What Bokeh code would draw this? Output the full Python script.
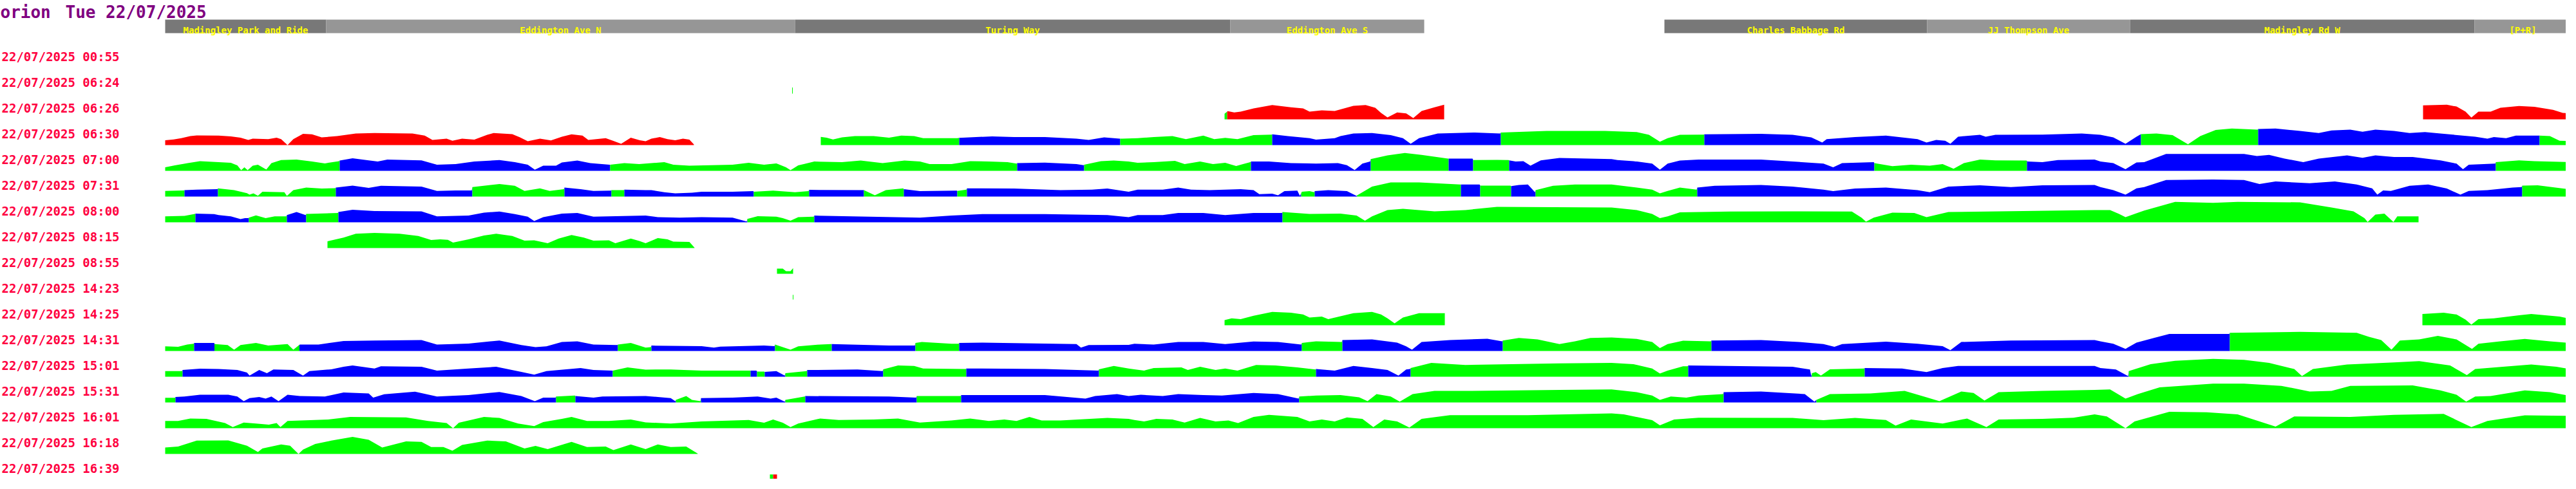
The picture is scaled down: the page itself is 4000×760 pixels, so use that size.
import numpy as np
from bokeh.plotting import figure
from bokeh.models import Range1d
from bokeh.embed import file_html
from bokeh.resources import INLINE
from bokeh.core.properties import value

# ---------------- data ----------------
title_host = "orion"
title_day = "Tue 22/07/2025"
run_date = "22/07/2025"
run_times = ["00:55", "06:24", "06:26", "06:30", "07:00", "07:31", "08:00", "08:15",
             "08:55", "14:23", "14:25", "14:31", "15:01", "15:31", "16:01", "16:18", "16:39"]

stop_names = ["Madingley Park and Ride", "Eddington Ave N", "Turing Way", "Eddington Ave S",
              "Charles Babbage Rd", "JJ Thompson Ave", "Madingley Rd W", "[P+R]"]
stop_from = [0, 250, 978, 1654, 2328, 2736, 3051, 3586]
stop_to = [250, 978, 1654, 1955, 2736, 3051, 3586, 3736]

# profiles: (distance along route, speed height); runs: (colour code, start distance)
r0624 = [(973.5, 9.5), (974.5, 9.5)]
r0624_runs = [("G", 973.5)]

r0626_a = [(1645, 8.7), (1650, 12.7), (1660, 10.7), (1670, 11.9), (1690, 17), (1719, 22.2), (1748, 18.6),
           (1767, 17), (1777, 11.9), (1796, 13.9), (1816, 13), (1845, 21), (1864, 22.2), (1879, 17.8),
           (1888, 9.9), (1898, 2.8), (1913, 10.7), (1927, 9.1), (1938, 1.8), (1951, 13), (1971, 18.6),
           (1986, 22.6)]
r0626_a_runs = [("G", 1645), ("R", 1649)]
r0626_b = [(3506, 21.6), (3543, 22.6), (3558, 19.8), (3572, 11.9), (3581, 2.6), (3592, 11.9), (3611, 11.9),
           (3626, 17.8), (3655, 20.6), (3679, 19.4), (3708, 14.7), (3723, 9.9), (3736, 9.1)]
r0626_b_runs = [("R", 3506)]

r0630_a = [(0, 7.5), (13, 8.7), (25, 10.7), (39, 13.9), (49, 15), (83, 14.7), (102, 13.5), (117, 11.5),
           (129, 7.9), (136, 9.9), (160, 9.1), (173, 11.5), (180, 9.1), (190, 0), (199, 9.1), (214, 17.4),
           (228, 16.6), (243, 11.9), (267, 13.9), (296, 17.8), (325, 18.6), (384, 17.8), (403, 14.7),
           (415, 7.9), (437, 9.9), (446, 6.7), (461, 9.9), (480, 8.3), (500, 15.8), (510, 18.6), (539, 17),
           (551, 11.9), (563, 5.9), (582, 9.9), (599, 7.1), (616, 13), (631, 16.6), (648, 14.7), (657, 7.9),
           (684, 10.7), (696, 6.3), (708, 2), (723, 11.5), (737, 7.5), (746, 5.9), (755, 9.9), (768, 12.3),
           (780, 9.1), (792, 7.5), (804, 9.9), (814, 8.3), (821, 1)]
r0630_a_runs = [("R", 0)]
r0630_b = [(1018, 12.7), (1027, 11.5), (1037, 8.7), (1051, 11.9), (1071, 13.9), (1100, 13.9), (1124, 11.5),
           (1143, 14.7), (1163, 13.9), (1177, 10.7), (1187, 10.7), (1230, 10.7), (1233, 11.1), (1284, 13.5),
           (1318, 12.3), (1366, 12.3), (1415, 9.9), (1434, 7.9), (1458, 11.9), (1482, 9.9), (1486, 9.9),
           (1510, 10.7), (1535, 12.3), (1564, 13.9), (1585, 9.1), (1612, 14.7), (1629, 9.1), (1646, 11.1),
           (1665, 9.1), (1690, 15.4), (1718, 16.2), (1719, 16.6), (1743, 13.9), (1777, 10.7), (1787, 8.3),
           (1816, 10.7), (1825, 13.9), (1845, 17.8), (1874, 18.6), (1903, 15.4), (1922, 10.7), (1934, 2),
           (1947, 10.7), (1976, 17.8), (2034, 19.4), (2073, 17.8), (2074, 19.4), (2145, 21.8), (2236, 21.8),
           (2285, 20.2), (2304, 15.8), (2321, 5.1), (2333, 10.7), (2352, 15.8), (2389, 16.2), (2390, 16.6),
           (2478, 17.4), (2527, 15.8), (2556, 11.9), (2573, 4), (2580, 9.1), (2624, 12.3), (2672, 14.7),
           (2721, 9.1), (2735, 4), (2750, 7.9), (2764, 6.7), (2772, 2), (2784, 13), (2818, 15.8), (2827, 13),
           (2842, 15.8), (2915, 16.2), (2976, 17.8), (3005, 15.8), (3025, 11.9), (3044, 2), (3061, 13),
           (3068, 17), (3092, 17.8), (3117, 15.4), (3141, 1.2), (3160, 13.9), (3184, 23.4), (3209, 25.7),
           (3249, 24), (3250, 25), (3277, 25.7), (3315, 21.8), (3344, 18.6), (3364, 22.6), (3393, 24),
           (3412, 20.6), (3432, 24), (3461, 21.8), (3485, 18.6), (3509, 20.2), (3533, 17.8), (3587, 13),
           (3606, 9.9), (3616, 12.3), (3635, 10.7), (3650, 14.7), (3686, 14.7), (3687, 14.7), (3703, 13.9),
           (3718, 6.7), (3736, 5.9)]
r0630_b_runs = [("G", 1018), ("B", 1233), ("G", 1483), ("B", 1719), ("G", 2074), ("B", 2390),
                ("G", 3068), ("B", 3250), ("G", 3687)]

r0700 = [(0, 5.5), (15, 8.3), (35, 11.9), (54, 15), (83, 13.5), (102, 12.3), (112, 8.3), (118, 0.8), (123, 5.5),
         (128, 0.8), (136, 7.9), (144, 9.5), (157, 2), (165, 11.9), (180, 16.6), (204, 17.4), (228, 14.3),
         (248, 11.5), (270, 15), (271, 15.8), (291, 19.4), (316, 16.2), (330, 14.3), (345, 17.4), (398, 16.2),
         (422, 9.5), (451, 10.3), (480, 14.3), (519, 16.6), (543, 13.5), (563, 9.5), (574, 1.6), (587, 7.9),
         (607, 7.9), (616, 13), (640, 15.8), (660, 11.9), (690, 9.5), (691, 9.5), (713, 11.9), (736, 10.3),
         (755, 11.9), (775, 13.5), (789, 9.5), (814, 7.9), (881, 9.5), (906, 12.3), (930, 9.5), (949, 11.5),
         (964, 5.5), (971, 0.8), (983, 8.3), (1008, 14.3), (1051, 13.5), (1080, 15.8), (1114, 11.9),
         (1148, 15.8), (1172, 14.3), (1187, 10.3), (1221, 10.3), (1250, 15), (1279, 14.3), (1308, 13.5),
         (1322, 11.1), (1323, 11.9), (1366, 12.7), (1415, 10.3), (1426, 8.7), (1427, 9.5), (1453, 15),
         (1473, 15.8), (1496, 14.3), (1510, 12.3), (1535, 13.5), (1568, 15.4), (1583, 10.3), (1607, 14.3),
         (1627, 10.3), (1646, 12.3), (1663, 7.5), (1685, 13.5), (1686, 14.3), (1714, 14.3), (1748, 11.9),
         (1787, 11.1), (1821, 11.9), (1835, 8.7), (1847, 1.2), (1859, 11.1), (1871, 14.3), (1872, 18.2),
         (1898, 23.8), (1925, 27.7), (1951, 24.6), (1992, 19), (1993, 19), (2030, 19), (2031, 16.6),
         (2068, 17), (2086, 16.6), (2087, 16.2), (2097, 14.3), (2109, 15), (2120, 7.9), (2136, 16.2),
         (2165, 19.8), (2246, 18.2), (2255, 16.6), (2280, 15), (2309, 11.1), (2321, 1.6), (2333, 11.1),
         (2352, 15.8), (2381, 17.4), (2478, 17.4), (2541, 13.5), (2575, 11.1), (2590, 5.5), (2604, 11.9),
         (2653, 13.5), (2654, 11.9), (2682, 7.1), (2711, 9.5), (2740, 7.9), (2760, 10.3), (2777, 3.2),
         (2793, 11.9), (2818, 17.4), (2842, 16.2), (2890, 15.8), (2892, 14.3), (2915, 13.5), (2939, 16.6),
         (2996, 17.4), (3005, 14.3), (3025, 11.9), (3044, 2.4), (3061, 13), (3073, 13.5), (3107, 26.1),
         (3146, 26.1), (3228, 26.1), (3248, 22.9), (3267, 24.6), (3291, 19), (3320, 13.5), (3344, 19),
         (3388, 23.8), (3412, 20.2), (3432, 23.8), (3461, 21.4), (3490, 21.4), (3533, 16.2), (3558, 11.1),
         (3568, 2.4), (3577, 9.5), (3618, 11.1), (3619, 13.5), (3655, 16.2), (3679, 15), (3736, 13.5)]
r0700_runs = [("G", 0), ("B", 271), ("G", 691), ("B", 1323), ("G", 1427), ("B", 1686), ("G", 1872),
              ("B", 1993), ("G", 2031), ("B", 2087), ("G", 2654), ("B", 2891), ("G", 3619)]

r0731 = [(0, 8.7), (29, 9.5), (30, 9.9), (49, 10.7), (81, 11.5), (82, 12.7), (107, 9.9), (127, 5.1), (131, 2.8),
         (137, 4.8), (144, 1.2), (151, 7.5), (185, 6.7), (189, 0.8), (199, 9.9), (219, 13.9), (243, 12.3),
         (264, 13), (265, 13.9), (291, 17), (316, 13.5), (335, 16.6), (398, 15.4), (422, 8.7), (451, 9.5),
         (476, 9.5), (477, 14.7), (519, 19.4), (543, 16.6), (558, 8.7), (582, 12.7), (597, 8.7), (619, 11.5),
         (620, 13.9), (645, 11.5), (665, 8.7), (692, 9.1), (693, 9.9), (712, 9.9), (713, 10.7), (746, 9.9),
         (755, 9.9), (775, 6.7), (792, 4.8), (818, 5.9), (833, 7.5), (881, 7.5), (913, 8.3), (914, 7.5),
         (944, 9.1), (978, 6.7), (999, 8.3), (1000, 10.3), (1084, 9.9), (1085, 9.9), (1102, 2), (1119, 9.9),
         (1146, 12.7), (1147, 11.5), (1172, 8.3), (1229, 9.1), (1230, 8.7), (1244, 10.7), (1245, 12.7),
         (1318, 12.3), (1390, 9.9), (1439, 10.7), (1463, 12.3), (1496, 7.5), (1510, 10.7), (1549, 10.7),
         (1573, 13.9), (1593, 10.7), (1622, 9.9), (1670, 11.5), (1690, 9.9), (1699, 3.6), (1719, 4.4),
         (1728, 2), (1738, 8.3), (1758, 9.1), (1762, 0.8), (1765, 7.5), (1777, 8.3), (1784, 6.7), (1785, 8.3),
         (1806, 9.9), (1835, 8.3), (1850, 0.8), (1851, 2), (1874, 15.4), (1903, 21.8), (1947, 21.8),
         (2011, 18.6), (2012, 18.6), (2041, 18.6), (2042, 17), (2089, 17), (2090, 16.2), (2102, 17.8),
         (2116, 18.6), (2127, 6.7), (2128, 9.9), (2155, 16.6), (2189, 18.6), (2246, 18.6), (2285, 13.9),
         (2309, 10.7), (2321, 4.8), (2333, 8.7), (2352, 13.9), (2378, 10.7), (2379, 13.9), (2406, 16.6),
         (2478, 17.8), (2527, 15.4), (2575, 10.7), (2590, 8.3), (2624, 12.3), (2672, 13.9), (2721, 9.9),
         (2740, 6.7), (2769, 15.4), (2818, 17.4), (2866, 14.7), (2915, 17.4), (2996, 17.8), (3005, 14.7),
         (3025, 9.9), (3044, 2.8), (3061, 12.7), (3073, 14.7), (3107, 25.7), (3180, 26.5), (3228, 25.7),
         (3252, 19.4), (3277, 23.4), (3330, 20.6), (3369, 23.4), (3403, 18.6), (3427, 12.7), (3435, 2.8),
         (3444, 9.5), (3456, 8.7), (3485, 16.6), (3514, 18.6), (3543, 12.3), (3564, 2.8), (3577, 8.7),
         (3606, 9.9), (3645, 13.9), (3659, 14.7), (3660, 17), (3684, 17.4), (3736, 10.7)]
r0731_runs = [("G", 0), ("B", 30), ("G", 82), ("B", 265), ("G", 477), ("B", 620), ("G", 693), ("B", 713),
              ("G", 914), ("B", 1000), ("G", 1085), ("B", 1147), ("G", 1230), ("B", 1245), ("G", 1764),
              ("B", 1785), ("G", 1850.5), ("B", 2012), ("G", 2042), ("B", 2090), ("G", 2128), ("B", 2379),
              ("G", 3660)]

r0800 = [(0, 9.1), (30, 9.9), (46, 13), (47, 13.5), (76, 12.7), (83, 11.1), (102, 9.1), (117, 4.8), (124, 6.3),
         (129, 6.3), (130, 7.1), (141, 10.7), (156, 6.3), (170, 9.1), (188, 9.1), (189, 11.1), (204, 15.8),
         (218, 11.1), (219, 13), (268, 14.3), (269, 15.8), (291, 19.4), (325, 17.4), (398, 17), (422, 9.1),
         (471, 10.3), (495, 15), (519, 16.6), (543, 12.7), (563, 8.7), (573, 2), (587, 7.9), (616, 13.5),
         (640, 14.3), (665, 8.7), (746, 10.3), (765, 7.9), (799, 7.1), (833, 7.9), (881, 7.1), (903, 1.2),
         (904, 5.1), (920, 9.5), (949, 8.7), (959, 6.3), (971, 2.4), (983, 7.9), (1007, 8.7), (1008, 10.3),
         (1172, 7.1), (1221, 10.3), (1269, 12.7), (1366, 12.7), (1463, 11.1), (1496, 7.9), (1510, 11.1),
         (1549, 11.1), (1573, 14.3), (1612, 14.3), (1646, 11.1), (1690, 14.3), (1734, 14.3), (1735, 15.8),
         (1777, 13), (1825, 13.5), (1850, 10.3), (1863, 2.4), (1874, 9.1), (1898, 19), (1922, 21), (1971, 17),
         (2019, 19), (2068, 23.8), (2246, 23), (2285, 19), (2309, 13), (2321, 6.3), (2333, 9.1), (2352, 15.4),
         (2430, 16.6), (2527, 17), (2619, 16.6), (2634, 7.1), (2641, 0.8), (2653, 7.1), (2682, 15),
         (2716, 14.3), (2735, 7.9), (2769, 15.8), (2996, 19), (3020, 19), (3034, 13), (3044, 7.9), (3058, 13),
         (3073, 18.2), (3121, 31.7), (3180, 30.1), (3218, 31.7), (3315, 30.9), (3364, 23), (3398, 17),
         (3415, 6.3), (3420, 0.5), (3432, 11.9), (3446, 13.5), (3460, 0.5), (3466, 9.1), (3499, 9.1)]
r0800_runs = [("G", 0), ("B", 47), ("G", 130), ("B", 189), ("G", 219), ("B", 269), ("G", 904), ("B", 1008),
              ("G", 1735)]

r0815 = [(252, 10.3), (277, 16.2), (296, 22.2), (325, 23.4), (364, 22.2), (393, 18.6), (413, 12.3), (427, 13.5),
         (439, 12.7), (447, 8.3), (471, 13.5), (495, 19.4), (514, 22.2), (539, 18.6), (558, 11.5), (573, 11.9),
         (594, 7.5), (611, 14.7), (631, 20.2), (650, 16.2), (665, 11.5), (689, 11.9), (699, 7.5), (723, 14.7),
         (737, 10.7), (746, 7.5), (765, 15.4), (780, 13.5), (789, 9.9), (814, 9.5), (822, 0.5)]
r0815_runs = [("G", 252)]

r0855 = [(950, 7.9), (959, 7.9), (964, 4), (971, 4), (975, 8.7)]
r0855_runs = [("G", 950)]

r1423 = [(974.5, 7.1), (975.5, 7.1)]
r1423_runs = [("G", 974.5)]

r1425_a = [(1645, 7.9), (1656, 10.7), (1670, 9.5), (1690, 14.7), (1719, 20.6), (1748, 19.4), (1767, 16.6),
           (1777, 11.9), (1796, 13.5), (1806, 9.5), (1845, 18.6), (1874, 20.6), (1888, 16.6), (1898, 10.7),
           (1909, 2.8), (1922, 11.9), (1947, 18.6), (1987, 18.6)]
r1425_a_runs = [("G", 1645)]
r1425_b = [(3505, 17.4), (3538, 19.4), (3558, 16.6), (3572, 8.7), (3581, 0.8), (3592, 9.5), (3616, 10.7),
           (3655, 15.4), (3674, 17.4), (3718, 13.5), (3736, 9.5)]
r1425_b_runs = [("G", 3505)]

r1431 = [(0, 7.1), (20, 6.3), (34, 9.9), (44, 11.1), (45, 12.3), (76, 12.3), (77, 10.7), (97, 9.1), (107, 2),
         (117, 9.1), (141, 12.3), (160, 8.3), (190, 10.7), (199, 2), (208, 9.1), (209, 9.9), (238, 9.9),
         (277, 15.4), (325, 16.2), (398, 17), (422, 9.9), (471, 11.5), (519, 16.2), (553, 9.1), (575, 5.9),
         (592, 7.1), (616, 13.9), (640, 15), (665, 9.9), (702, 9.1), (703, 9.9), (723, 12.3), (746, 5.1),
         (754, 5.9), (755, 8.3), (833, 7.5), (852, 5.1), (862, 6.7), (930, 8.3), (946, 7.5), (947, 9.9),
         (971, 2), (983, 7.1), (1017, 9.9), (1034, 10.7), (1035, 10.7), (1124, 8.3), (1164, 8.3), (1165, 12.3),
         (1175, 13.9), (1221, 11.1), (1232, 11.1), (1233, 12.3), (1269, 13), (1366, 11.5), (1415, 10.7),
         (1422, 5.1), (1434, 9.1), (1496, 9.5), (1505, 11.1), (1535, 9.9), (1573, 13.9), (1612, 13.9),
         (1646, 10.7), (1690, 14.7), (1728, 13.9), (1764, 9.9), (1765, 12.3), (1787, 15), (1827, 13.9),
         (1828, 17), (1874, 17.8), (1913, 13), (1927, 7.1), (1936, 2), (1951, 13.9), (1995, 17), (2053, 19),
         (2076, 15), (2077, 16.2), (2102, 20.2), (2131, 17.8), (2165, 10.7), (2189, 15), (2213, 20.2),
         (2246, 21), (2285, 18.6), (2309, 13.9), (2321, 4.4), (2333, 10.7), (2357, 15.8), (2400, 15),
         (2401, 16.2), (2478, 17), (2537, 13.9), (2575, 10.7), (2592, 6.3), (2604, 10.7), (2672, 14.3),
         (2721, 11.1), (2760, 7.5), (2772, 1.2), (2789, 13.9), (2866, 16.2), (2996, 17), (3005, 15),
         (3025, 11.1), (3044, 3.2), (3061, 13), (3088, 20.2), (3112, 26.5), (3205, 26.5), (3206, 28.1),
         (3315, 29.7), (3403, 28.1), (3422, 21.8), (3441, 17), (3457, 2), (3470, 16.2), (3500, 17.8),
         (3529, 23.4), (3558, 17.8), (3582, 3.2), (3592, 11.1), (3626, 15), (3664, 18.6), (3703, 15),
         (3736, 12.3)]
r1431_runs = [("G", 0), ("B", 45), ("G", 76.5), ("B", 208.5), ("G", 703), ("B", 755), ("G", 947), ("B", 1035),
              ("G", 1165), ("B", 1233), ("G", 1765), ("B", 1828), ("G", 2077), ("B", 2401), ("G", 3206)]

r1501 = [(0, 8.7), (26, 8.7), (27, 10.3), (54, 12.3), (83, 11.9), (112, 10.3), (127, 6.3), (131, 1.6),
         (146, 10.3), (158, 5.5), (168, 11.1), (199, 10.3), (214, 1.6), (224, 8.7), (258, 11.5), (277, 15.4),
         (291, 17.4), (325, 12.7), (335, 16.2), (398, 15.4), (422, 9.5), (471, 12.7), (514, 15.4), (553, 7.5),
         (573, 3.2), (592, 8.7), (645, 13.5), (665, 10.3), (694, 9.5), (695, 9.5), (718, 14.3), (746, 11),
         (785, 11.1), (833, 9.5), (908, 9.5), (909, 9.5), (918, 9.5), (919, 7.9), (930, 7.9), (931, 7.5),
         (949, 8.7), (962, 1.6), (963, 5.5), (996, 8.7), (997, 10.3), (1075, 11.1), (1114, 8.7), (1115, 11.5),
         (1138, 17.4), (1163, 16.6), (1177, 12.7), (1243, 11.9), (1244, 12.7), (1366, 11.9), (1449, 9.5),
         (1450, 11.5), (1473, 16.6), (1496, 12.7), (1505, 11.5), (1520, 9.5), (1535, 13.5), (1578, 14.3),
         (1588, 10.3), (1607, 15.4), (1631, 10.3), (1646, 12.7), (1665, 9.5), (1694, 18.2), (1724, 17.4),
         (1758, 14.3), (1786, 11.1), (1787, 11.9), (1816, 9.5), (1845, 16.6), (1874, 13.5), (1898, 10.3),
         (1915, 1.6), (1927, 11.1), (1933, 11.9), (1934, 13.5), (1966, 21.4), (2019, 18.2), (2165, 20.6),
         (2246, 21.4), (2280, 19.4), (2309, 12.7), (2321, 4.8), (2333, 9.5), (2357, 16.2), (2364, 16.2),
         (2365, 17.4), (2527, 15.4), (2554, 11.1), (2556, 0.8), (2557, 5.5), (2563, 7.1), (2571, 1.6),
         (2585, 11.5), (2638, 12.7), (2639, 13.5), (2697, 12.7), (2735, 7.1), (2760, 13.5), (2784, 16.6),
         (2996, 16.6), (3005, 13.5), (3029, 11.1), (3048, 0.8), (3049, 8.7), (3083, 19.4), (3121, 24.6),
         (3180, 27.7), (3228, 26.1), (3267, 21.4), (3306, 11.9), (3318, 0.8), (3335, 11.9), (3388, 19),
         (3461, 22.2), (3500, 24.2), (3548, 17.4), (3574, 2.4), (3587, 11.9), (3630, 15.4), (3674, 19),
         (3713, 15.4), (3736, 11.5)]
r1501_runs = [("G", 0), ("B", 27), ("G", 695), ("B", 909), ("G", 919), ("B", 931), ("G", 963), ("B", 997),
              ("G", 1115), ("B", 1244), ("G", 1450), ("B", 1787), ("G", 1934), ("B", 2365), ("G", 2557),
              ("B", 2639), ("G", 3049)]

r1531 = [(0, 7.1), (15, 7.1), (16, 8.3), (30, 9.1), (54, 11.9), (98, 11.9), (112, 9.1), (122, 2), (131, 6.7),
         (146, 8.3), (156, 5.9), (165, 9.1), (176, 2), (190, 11.9), (209, 9.9), (248, 9.1), (277, 15.4),
         (316, 13.9), (323, 7.5), (340, 12.7), (388, 16.6), (422, 9.1), (471, 11.5), (519, 16.2), (553, 9.9),
         (574, 2), (587, 7.5), (606, 7.5), (607, 9.1), (636, 10.7), (637, 9.9), (665, 7.5), (679, 9.1),
         (746, 9.9), (785, 6.7), (792, 2), (793, 4), (809, 9.9), (818, 4), (831, 2), (832, 6.7), (881, 7.5),
         (920, 9.1), (940, 5.9), (949, 7.5), (962, 1.2), (963, 4), (993, 9.1), (994, 9.9), (1124, 9.1),
         (1166, 7.5), (1167, 9.9), (1235, 9.9), (1236, 11.5), (1366, 11.5), (1429, 5.9), (1444, 9.9),
         (1478, 13), (1496, 9.9), (1515, 11.9), (1549, 9.9), (1573, 13), (1612, 11.5), (1641, 10.7),
         (1690, 14.7), (1728, 13), (1760, 5.9), (1761, 9.1), (1787, 10.7), (1825, 11.5), (1854, 7.9),
         (1867, 2), (1881, 13), (1903, 9.1), (1917, 1.2), (1937, 13), (1971, 17.8), (2019, 17.8), (2165, 19.4),
         (2246, 20.2), (2285, 15.8), (2309, 10.7), (2321, 4), (2338, 9.1), (2362, 7.5), (2381, 10.7),
         (2419, 13), (2420, 15.8), (2478, 17), (2546, 13), (2561, 1.2), (2564, 4), (2585, 13), (2648, 13.9),
         (2701, 17.8), (2735, 7.9), (2755, 2), (2789, 17), (2808, 14.7), (2825, 2.8), (2847, 15.8),
         (2915, 17.8), (2996, 19.4), (3020, 20.2), (3044, 5.9), (3063, 13), (3097, 23.4), (3180, 29.1),
         (3228, 29.1), (3286, 25.7), (3330, 17), (3364, 17.8), (3393, 25.7), (3490, 26.5), (3533, 18.6),
         (3558, 11.9), (3573, 1.2), (3587, 9.1), (3611, 9.9), (3664, 18.6), (3703, 15.8), (3736, 9.9)]
r1531_runs = [("G", 0), ("B", 16), ("G", 607), ("B", 637), ("G", 793), ("B", 832), ("G", 963), ("B", 994),
              ("G", 1167), ("B", 1236), ("G", 1761), ("B", 2420), ("G", 2564)]

r1601 = [(0, 11.1), (20, 11.1), (39, 15), (64, 14.3), (93, 7.9), (105, 1.6), (122, 8.7), (141, 7.1), (161, 5.5),
         (173, 7.9), (179, 1.6), (190, 11.1), (253, 13.5), (287, 17.4), (374, 16.6), (408, 11.1), (437, 7.9),
         (447, 0), (456, 8.3), (495, 17.4), (519, 15.8), (548, 7.1), (573, 3.2), (587, 9.5), (616, 14.3),
         (631, 17.4), (655, 11.1), (689, 11.1), (723, 13.5), (746, 9), (785, 7.1), (833, 10.3), (906, 12.7),
         (930, 8.3), (944, 13.5), (959, 8.3), (971, 1.6), (983, 7.1), (1017, 15), (1046, 12.7), (1100, 13.5),
         (1138, 15), (1172, 8.7), (1221, 11.9), (1250, 15), (1279, 11.1), (1303, 13.5), (1322, 11.1),
         (1342, 17.4), (1361, 11.9), (1390, 11.9), (1463, 15.8), (1496, 14.3), (1505, 12.7), (1520, 10.3),
         (1539, 14.3), (1564, 13.5), (1583, 8.7), (1607, 15.8), (1631, 10.3), (1651, 11.9), (1666, 7.9),
         (1690, 17.4), (1714, 20.6), (1758, 17.4), (1777, 10.3), (1796, 13.5), (1816, 10.3), (1835, 16.6),
         (1859, 14.3), (1876, 1.6), (1893, 13.5), (1913, 10.3), (1932, 0.8), (1951, 14.3), (1995, 20.2),
         (2116, 20.2), (2246, 23), (2265, 21.4), (2309, 12.3), (2321, 4.4), (2343, 13.5), (2381, 16.2),
         (2527, 15.8), (2575, 12.3), (2624, 15.8), (2672, 12.7), (2687, 4), (2711, 13.5), (2760, 7.1),
         (2798, 15), (2828, 1.6), (2847, 13.5), (2915, 14.3), (2963, 16.2), (2996, 21.4), (3015, 18.2),
         (3044, 0), (3058, 10.3), (3112, 25.3), (3170, 24.6), (3218, 21.4), (3277, 2.4), (3306, 18.2),
         (3393, 17.4), (3461, 20.6), (3538, 22.2), (3581, 1.6), (3606, 11.1), (3664, 19.8), (3736, 19)]
r1601_runs = [("G", 0)]

r1618 = [(0, 9.9), (20, 11.5), (49, 20.6), (98, 21), (127, 12.7), (144, 2.8), (151, 8.3), (180, 14.7),
         (194, 12.7), (207, 0), (214, 6.7), (233, 15.4), (258, 20.6), (291, 26.5), (316, 21.8), (337, 9.9),
         (374, 19.4), (398, 18.6), (413, 10.7), (432, 10.7), (446, 4.8), (461, 13.9), (500, 20.6), (529, 19.4),
         (558, 8.3), (575, 12.3), (594, 7.5), (631, 18.6), (655, 10.7), (684, 11.5), (696, 5.9), (723, 14.7),
         (746, 7.5), (765, 14.7), (785, 10.7), (809, 11.5), (827, 0.5)]
r1618_runs = [("G", 0)]

r1639 = [(939, 8), (944, 8), (950, 8)]
r1639_runs = [("G", 939), ("R", 944)]

# row index -> drawn parts
parts = [
    (1, r0624, r0624_runs),
    (2, r0626_a, r0626_a_runs), (2, r0626_b, r0626_b_runs),
    (3, r0630_a, r0630_a_runs), (3, r0630_b, r0630_b_runs),
    (4, r0700, r0700_runs),
    (5, r0731, r0731_runs),
    (6, r0800, r0800_runs),
    (7, r0815, r0815_runs),
    (8, r0855, r0855_runs),
    (9, r1423, r1423_runs),
    (10, r1425_a, r1425_a_runs), (10, r1425_b, r1425_b_runs),
    (11, r1431, r1431_runs),
    (12, r1501, r1501_runs),
    (13, r1531, r1531_runs),
    (14, r1601, r1601_runs),
    (15, r1618, r1618_runs),
    (16, r1639, r1639_runs),
]

# ---------------- styling / layout ----------------
COL = {"R": "#ff0000", "G": "#00ff00", "B": "#0000ff"}
HDR_DARK, HDR_LIGHT = "#787878", "#969696"
ROW_BASE0, ROW_PITCH = 112.9, 40.0
LABEL_BASE0 = 95.0
MONO = value("DejaVu Sans Mono")

p = figure(width=3984, height=744, output_backend="svg", toolbar_location=None,
           x_range=Range1d(-256, 3728), y_range=Range1d(752, 8),
           x_axis_type=None, y_axis_type=None, min_border=0)
p.outline_line_color = None
p.background_fill_color = "white"
p.border_fill_color = "white"

# title (host name, then the day)
p.text(x=[-256, -155], y=[26, 26], text=[title_host, title_day], text_color="#800080", text_font=MONO,
       text_font_size="26px", text_font_style="bold", text_align="left", text_baseline="alphabetic")

# header bar with stop names
hdr_cols = [HDR_DARK if i % 2 == 0 else HDR_LIGHT for i in range(len(stop_names))]
p.quad(left=stop_from, right=stop_to, top=[38] * len(stop_from), bottom=[59] * len(stop_from),
       fill_color=hdr_cols, line_color=None)
mids = [(a + b) / 2 for a, b in zip(stop_from, stop_to)]
p.text(x=mids, y=[54] * len(mids), text=stop_names, text_color="#ffff00", text_font=MONO,
       text_font_size="14px", text_font_style="bold", text_align="center", text_baseline="alphabetic")

# row labels
labels = [f"{run_date} {t}" for t in run_times]
p.text(x=[-254] * len(labels), y=[LABEL_BASE0 + ROW_PITCH * i for i in range(len(labels))], text=labels,
       text_color="#ff0040", text_font=MONO, text_font_size="19px", text_font_style="bold",
       text_align="left", text_baseline="alphabetic")

# speed profiles
for row, pts, runs in parts:
    xs = np.array([q[0] for q in pts], dtype=float)
    hs = np.array([q[1] for q in pts], dtype=float)
    base = ROW_BASE0 + ROW_PITCH * row
    end = xs[-1]
    for k, (code, s) in enumerate(runs):
        e = runs[k + 1][1] if k + 1 < len(runs) else end
        m = (xs > s) & (xs < e)
        sx = np.concatenate([[s], xs[m], [e]])
        sh = np.concatenate([[np.interp(s, xs, hs)], hs[m], [np.interp(e, xs, hs)]])
        p.varea(x=list(sx), y1=[base] * len(sx), y2=list(base - sh), fill_color=COL[code])

open("out.html", "w").write(file_html(p, INLINE))
